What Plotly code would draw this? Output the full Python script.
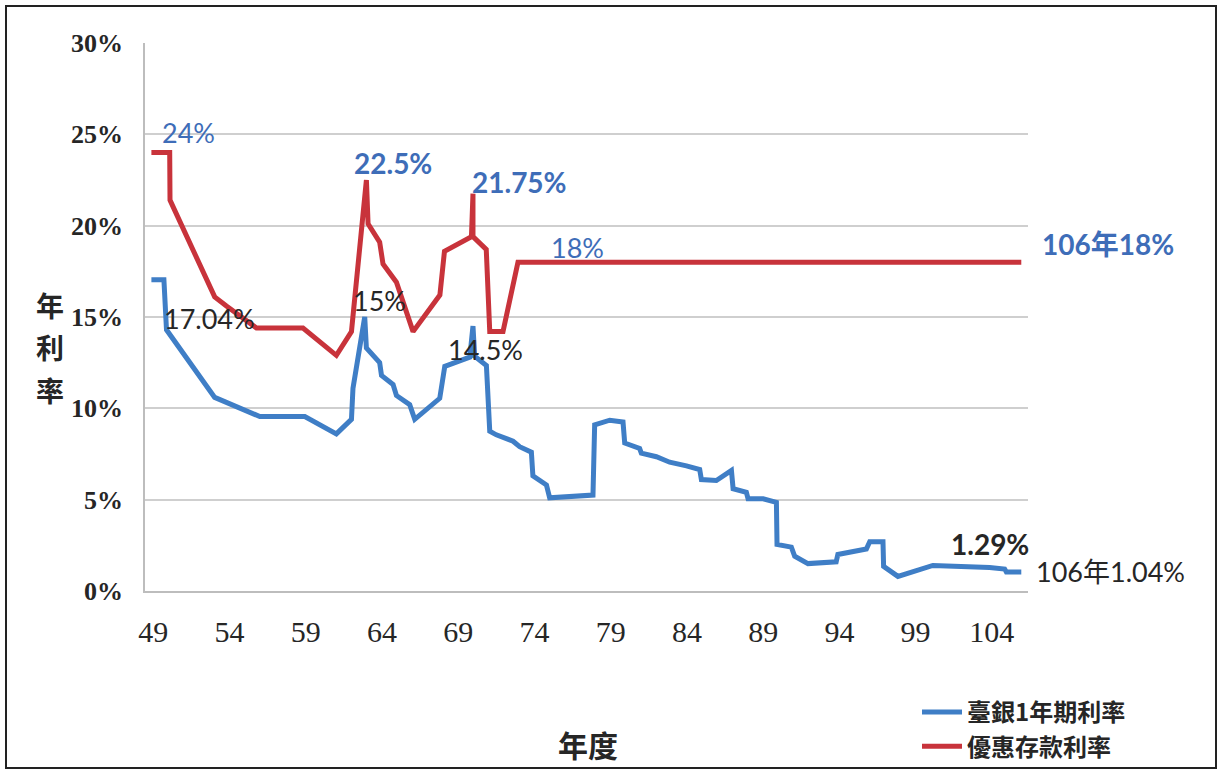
import plotly.graph_objects as go

# ---------------- data ----------------
series_names = ["臺銀1年期利率", "優惠存款利率"]

bank_years = [48.88, 49.7, 49.87, 53.03, 55.99, 58.94, 61.01, 62.0, 62.1, 62.87,
              62.98, 63.85, 63.97, 64.73, 64.95, 65.82, 66.15, 67.79, 68.12, 69.76,
              69.97, 70.08, 70.85, 71.07, 71.5, 72.6, 73.03, 73.8, 73.9, 74.79,
              75.0, 77.84, 77.95, 78.94, 79.81, 79.92, 80.9, 81.01, 82.0, 82.87,
              83.97, 84.84, 84.95, 85.93, 86.92, 87.03, 87.9, 88.01, 89.0, 89.87,
              89.91, 90.85, 91.07, 91.94, 93.79, 93.9, 95.77, 95.99, 96.86, 96.9,
              97.84, 99.05, 100.13, 103.85, 104.84, 104.95, 105.93]
bank_rates = [17.04, 17.04, 14.3, 10.6, 9.55, 9.55, 8.6, 9.4, 11.1, 15.0,
              13.3, 12.5, 11.8, 11.3, 10.7, 10.2, 9.4, 10.55, 12.3, 12.8,
              14.5, 12.85, 12.35, 8.75, 8.55, 8.2, 7.9, 7.6, 6.3, 5.8,
              5.1, 5.25, 9.1, 9.35, 9.25, 8.1, 7.8, 7.55, 7.35, 7.05,
              6.85, 6.65, 6.1, 6.05, 6.6, 5.6, 5.4, 5.05, 5.05, 4.85,
              2.55, 2.4, 1.9, 1.5, 1.6, 2.0, 2.3, 2.7, 2.7, 1.35,
              0.8, 1.15, 1.4, 1.29, 1.2, 1.04, 1.04]

pref_years = [48.88, 50.08, 50.1, 53.03, 53.8, 55.77, 58.82, 61.01, 62.0, 62.98,
              63.09, 63.85, 64.07, 64.95, 66.04, 67.8, 68.1, 69.87, 69.97, 69.97,
              70.84, 71.07, 71.94, 72.92, 105.93]
pref_rates = [24.0, 24.0, 21.4, 16.1, 15.6, 14.4, 14.4, 12.9, 14.2, 22.5,
              20.1, 19.1, 17.9, 16.9, 14.2, 16.2, 18.6, 19.4, 21.75, 19.4,
              18.7, 14.2, 14.2, 18.0, 18.0]

x_tick_vals = [49, 54, 59, 64, 69, 74, 79, 84, 89, 94, 99, 104]
y_tick_vals = [0, 5, 10, 15, 20, 25, 30]
y_tick_text = ["0%", "5%", "10%", "15%", "20%", "25%", "30%"]

# in-plot labels: text, year, rate, colour group, bold
in_plot_texts = ["24%", "22.5%", "21.75%", "18%", "17.04%", "15%", "14.5%", "1.29%"]
in_plot_x = [51.28, 64.72, 73.05, 76.85, 52.72, 63.87, 70.81, 103.86]
in_plot_y = [25.1, 23.45, 22.4, 18.8, 14.92, 15.92, 13.21, 2.6]
in_plot_blue = [True, True, True, True, False, False, False, False]
in_plot_bold = [False, True, True, False, False, False, False, True]

end_texts = ["106年18%", "106年1.04%"]

# ---------------- styling ----------------
BLUE = "#3F7EC6"
RED = "#C8333B"
LABEL_BLUE = "#3E6DB8"
DARK = "#262626"
GRID = "#CFCFCF"
LABEL_FONT = "Lato, 'Noto Sans CJK TC', sans-serif"

fig = go.Figure()
fig.add_trace(go.Scatter(x=bank_years, y=bank_rates, mode="lines", name=series_names[0],
                         line=dict(color=BLUE, width=5), hoverinfo="skip"))
fig.add_trace(go.Scatter(x=pref_years, y=pref_rates, mode="lines", name=series_names[1],
                         line=dict(color=RED, width=5), hoverinfo="skip"))

annotations = []
for t, x, y, isblue, isbold in zip(in_plot_texts, in_plot_x, in_plot_y, in_plot_blue, in_plot_bold):
    annotations.append(dict(
        text=t, x=x, y=y, xref="x", yref="y", showarrow=False,
        xanchor="center", yanchor="middle",
        font=dict(family=LABEL_FONT, size=28 if isbold else 27,
                  color=LABEL_BLUE if isblue else DARK,
                  weight="bold" if isbold else "normal")))

# end-of-line labels outside the plot area (paper coordinates)
annotations.append(dict(text=end_texts[0], x=1.0906, y=0.634, xref="paper", yref="paper",
                        showarrow=False, xanchor="center", yanchor="middle",
                        font=dict(family=LABEL_FONT, size=28, color=LABEL_BLUE, weight="bold")))
annotations.append(dict(text=end_texts[1], x=1.0929, y=0.036, xref="paper", yref="paper",
                        showarrow=False, xanchor="center", yanchor="middle",
                        font=dict(family=LABEL_FONT, size=27, color=DARK)))

# axis titles
CJK = "'Noto Sans CJK TC', sans-serif"
for ch, py in zip(["年", "利", "率"], [305, 347, 390]):
    annotations.append(dict(text=ch, x=(50 - 145) / 883, y=(591 - py) / 548,
                            xref="paper", yref="paper", showarrow=False,
                            xanchor="center", yanchor="middle",
                            font=dict(family=CJK, size=28, color=DARK, weight="bold")))
annotations.append(dict(text="年度", x=(588 - 145) / 883, y=(591 - 744) / 548,
                        xref="paper", yref="paper", showarrow=False,
                        xanchor="center", yanchor="middle",
                        font=dict(family=CJK, size=30, color=DARK, weight="bold")))

fig.update_layout(
    width=1222, height=773, autosize=False,
    margin=dict(l=145, r=194, t=43, b=182, pad=0, autoexpand=False),
    paper_bgcolor="white", plot_bgcolor="white",
    showlegend=True,
    legend=dict(x=(917 - 145) / 883, y=(591 - 690) / 548, xanchor="left", yanchor="top",
                font=dict(family=CJK, size=24, color=DARK, weight="bold"),
                bgcolor="rgba(0,0,0,0)", tracegroupgap=0, itemwidth=40),
    annotations=annotations,
    shapes=[dict(type="rect", xref="paper", yref="paper",
                 x0=(6 - 145) / 883, x1=(1216 - 145) / 883,
                 y0=(591 - 768) / 548, y1=(591 - 6) / 548,
                 line=dict(color="#222", width=2))],
)

fig.update_xaxes(range=[48.46, 106.37], tickmode="array", tickvals=x_tick_vals,
                 showgrid=False, zeroline=False, showline=True, linecolor="#BDBDBD", linewidth=1.5,
                 ticks="", ticklabelstandoff=13,
                 tickfont=dict(family="'Liberation Serif', serif", size=30, color=DARK))
fig.update_yaxes(range=[0, 30], tickmode="array", tickvals=y_tick_vals, ticktext=y_tick_text,
                 showgrid=True, gridcolor=GRID, gridwidth=1.5, zeroline=False,
                 showline=True, linecolor="#BDBDBD", linewidth=1.5,
                 ticks="", ticklabelstandoff=15,
                 tickfont=dict(family="'Liberation Serif', serif", size=26, color=DARK, weight="bold"))

fig.write_html("out.html")
